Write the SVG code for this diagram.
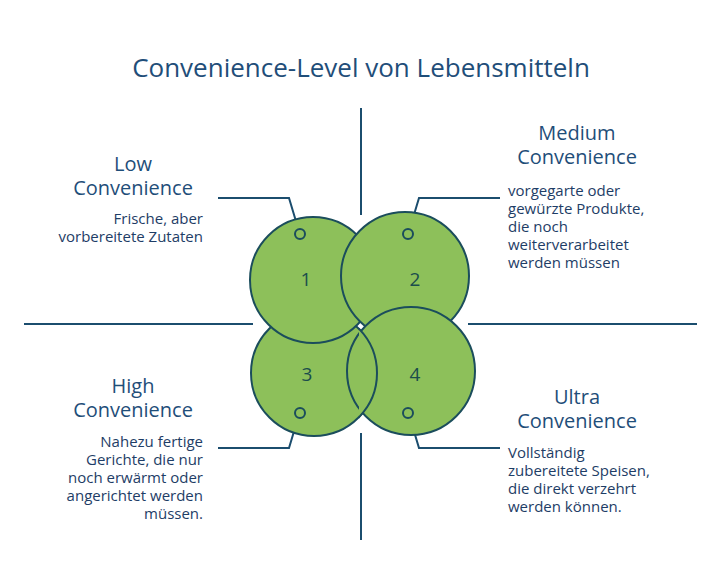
<svg xmlns="http://www.w3.org/2000/svg" width="721" height="576" viewBox="0 0 721 576">
<style>
.t{font-family:"Open Sans","Liberation Sans",sans-serif;fill:#1f4e79}
.h{font-size:20px;text-anchor:middle}
.b{font-size:15px;fill:#1e3d66}
.c{fill:#8dc05a;stroke:#1b4d5c;stroke-width:2}
.ln{stroke:#1b4d6e;stroke-width:2;fill:none}
.r{fill:none;stroke:#1b4d5c;stroke-width:2}
.n{font-family:"Open Sans","Liberation Sans",sans-serif;font-size:19px;fill:#1b4d4c;text-anchor:middle}
</style>
<defs><clipPath id="cp"><rect x="359" y="328" width="60" height="120"/></clipPath></defs>
<rect width="721" height="576" fill="#fff"/>
<text class="t" x="361" y="77" font-size="26" font-weight="500" text-anchor="middle" fill="#1a4e78">Convenience-Level von Lebensmitteln</text>
<g id="connectors">
<line class="ln" x1="361" y1="108" x2="361" y2="215"/>
<line class="ln" x1="361" y1="433" x2="361" y2="540"/>
<line class="ln" x1="24" y1="324" x2="253" y2="324"/>
<line class="ln" x1="468" y1="324" x2="697" y2="324"/>
<polyline class="ln" points="218,198 289,198 298,228"/>
<polyline class="ln" points="500,198 419,198 410,228"/>
<polyline class="ln" points="218,448 289,448 298,418"/>
<polyline class="ln" points="500,448 419,448 410,418"/>
</g>
<g id="circles">
<circle class="c" cx="314" cy="373" r="63"/>
<circle class="c" cx="313" cy="280" r="63"/>
<circle class="c" cx="405" cy="276" r="64"/>
<circle class="c" cx="411" cy="371" r="64"/>
<circle class="c" cx="314" cy="373" r="63" clip-path="url(#cp)"/>
</g>
<g id="node1"><circle class="r" cx="300" cy="234" r="5"/><text class="n" x="306" y="286">1</text>
<text class="t h" x="133" y="171">Low</text><text class="t h" x="133" y="195">Convenience</text>
<text class="t b" x="203" y="224" text-anchor="end">Frische, aber</text><text class="t b" x="203" y="242" text-anchor="end">vorbereitete Zutaten</text></g>
<g id="node2"><circle class="r" cx="408" cy="234" r="5"/><text class="n" x="415" y="286">2</text>
<text class="t h" x="577" y="140">Medium</text><text class="t h" x="577" y="164">Convenience</text>
<text class="t b" x="508" y="196">vorgegarte oder</text><text class="t b" x="508" y="214">gewürzte Produkte,</text><text class="t b" x="508" y="232">die noch</text><text class="t b" x="508" y="250">weiterverarbeitet</text><text class="t b" x="508" y="268">werden müssen</text></g>
<g id="node3"><circle class="r" cx="300" cy="413" r="5"/><text class="n" x="307" y="381">3</text>
<text class="t h" x="133" y="393">High</text><text class="t h" x="133" y="417">Convenience</text>
<text class="t b" x="203" y="447" text-anchor="end">Nahezu fertige</text><text class="t b" x="203" y="465" text-anchor="end">Gerichte, die nur</text><text class="t b" x="203" y="483" text-anchor="end">noch erwärmt oder</text><text class="t b" x="203" y="501" text-anchor="end">angerichtet werden</text><text class="t b" x="203" y="519" text-anchor="end">müssen.</text></g>
<g id="node4"><circle class="r" cx="408" cy="413" r="5"/><text class="n" x="415" y="381">4</text>
<text class="t h" x="577" y="404">Ultra</text><text class="t h" x="577" y="428">Convenience</text>
<text class="t b" x="508" y="458">Vollständig</text><text class="t b" x="508" y="476">zubereitete Speisen,</text><text class="t b" x="508" y="494">die direkt verzehrt</text><text class="t b" x="508" y="512">werden können.</text></g>
</svg>
